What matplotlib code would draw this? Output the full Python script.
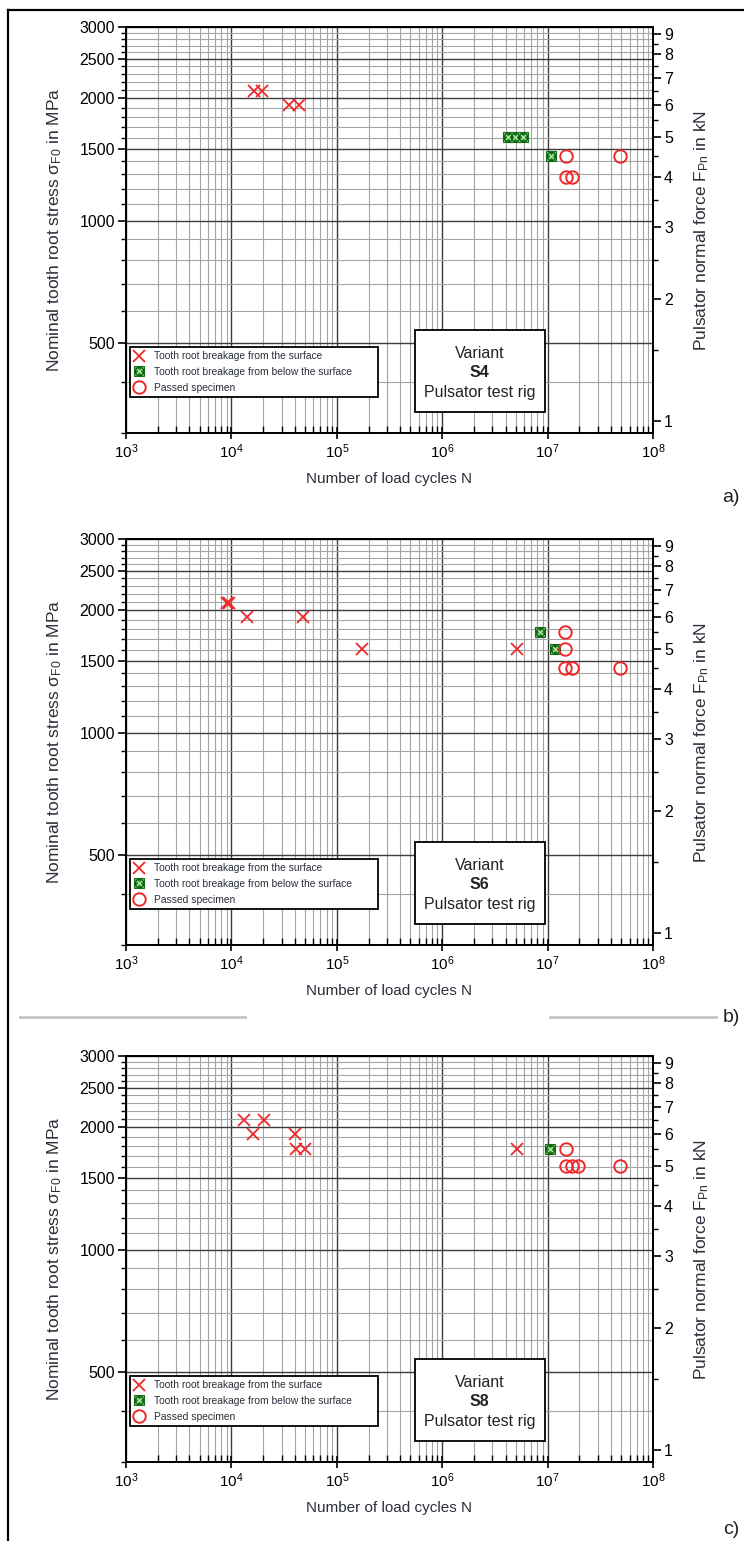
import matplotlib
matplotlib.use('Agg')
import matplotlib.pyplot as plt
from matplotlib.ticker import FixedLocator, FixedFormatter, NullFormatter
from matplotlib.lines import Line2D
from matplotlib.patches import Rectangle
from matplotlib.legend_handler import HandlerTuple

plt.rcParams['font.family'] = ['Liberation Sans', 'DejaVu Sans']
plt.rcParams['mathtext.fontset'] = 'custom'
plt.rcParams['mathtext.rm'] = 'Liberation Sans'
plt.rcParams['mathtext.it'] = 'Liberation Sans:italic'

# pulsator normal force (kN) -> nominal tooth root stress (MPa)
KN_TO_MPA = 321.0

variants = ['S4', 'S6', 'S8']
panel_tags = ['a)', 'b)', 'c)']

# S4
surf_N_s4 = [1.65e4, 1.95e4, 3.5e4, 4.4e4]
surf_F_s4 = [6.5, 6.5, 6.0, 6.0]
below_N_s4 = [4.2e6, 4.9e6, 5.8e6, 1.08e7]
below_F_s4 = [5.0, 5.0, 5.0, 4.5]
pass_N_s4 = [1.5e7, 4.9e7, 1.5e7, 1.7e7]
pass_F_s4 = [4.5, 4.5, 4.0, 4.0]

# S6
surf_N_s6 = [9.0e3, 9.5e3, 1.4e4, 4.8e4, 1.72e5, 5.1e6]
surf_F_s6 = [6.5, 6.5, 6.0, 6.0, 5.0, 5.0]
below_N_s6 = [8.5e6, 1.17e7]
below_F_s6 = [5.5, 5.0]
pass_N_s6 = [1.47e7, 1.47e7, 1.47e7, 1.69e7, 4.9e7]
pass_F_s6 = [5.5, 5.0, 4.5, 4.5, 4.5]

# S8
surf_N_s8 = [1.31e4, 2.04e4, 1.59e4, 4.0e4, 4.1e4, 5.0e4, 5.1e6]
surf_F_s8 = [6.5, 6.5, 6.0, 6.0, 5.5, 5.5, 5.5]
below_N_s8 = [1.05e7]
below_F_s8 = [5.5]
pass_N_s8 = [1.49e7, 1.5e7, 1.72e7, 1.95e7, 4.9e7]
pass_F_s8 = [5.5, 5.0, 5.0, 5.0, 5.0]

panels = [
    (surf_N_s4, surf_F_s4, below_N_s4, below_F_s4, pass_N_s4, pass_F_s4),
    (surf_N_s6, surf_F_s6, below_N_s6, below_F_s6, pass_N_s6, pass_F_s6),
    (surf_N_s8, surf_F_s8, below_N_s8, below_F_s8, pass_N_s8, pass_F_s8),
]

legend_labels = ['Tooth root breakage from the surface',
                 'Tooth root breakage from below the surface',
                 'Passed specimen']

x_decades = [1e3, 1e4, 1e5, 1e6, 1e7, 1e8]
x_ticklabels = [r'$10^{3}$', r'$10^{4}$', r'$10^{5}$', r'$10^{6}$', r'$10^{7}$', r'$10^{8}$']
stress_ticks = [500, 1000, 1500, 2000, 2500, 3000]
force_ticks = [1, 2, 3, 4, 5, 6, 7, 8, 9]

W, H = 744, 1541
fig = plt.figure(figsize=(W / 100, H / 100), dpi=100)


def fx(x):
    return x / W


def fy(y):
    return 1 - y / H


RED = '#f0282a'
TXT = '#2a2f3a'

panel_tops = [27, 539, 1056]
tag_y = [498, 1017, 1530]

for i, (sN, sF, bN, bF, pN, pF) in enumerate(panels):
    top = panel_tops[i]
    bot = top + 406
    ax = fig.add_axes([fx(126), fy(bot), fx(653) - fx(126), fy(top) - fy(bot)])
    ax.set_xscale('log')
    ax.set_yscale('log')
    ax.set_xlim(1e3, 1e8)
    ax.set_ylim(300, 3000)

    ax.xaxis.set_major_locator(FixedLocator(x_decades))
    ax.xaxis.set_major_formatter(FixedFormatter(x_ticklabels))
    ax.xaxis.set_minor_locator(FixedLocator([m * d for d in x_decades[:-1] for m in range(2, 10)]))
    ax.xaxis.set_minor_formatter(NullFormatter())
    ax.yaxis.set_major_locator(FixedLocator(stress_ticks))
    ax.yaxis.set_major_formatter(FixedFormatter([str(s) for s in stress_ticks]))
    ax.yaxis.set_minor_locator(FixedLocator([v for v in range(300, 3000, 100) if v % 500]))
    ax.yaxis.set_minor_formatter(NullFormatter())

    ax.grid(which='major', color='#3c3c3c', lw=1.0)
    ax.grid(which='minor', color='#a4a4a4', lw=0.8)
    ax.set_axisbelow(True)
    ax.tick_params(axis='x', which='major', direction='inout', length=8, width=1.2,
                   labelsize=11, pad=3)
    ax.tick_params(axis='x', which='minor', direction='in', length=5, width=1.0)
    ax.tick_params(axis='y', which='major', direction='out', length=6, width=1.2,
                   labelsize=11.5, pad=2)
    ax.tick_params(axis='y', which='minor', direction='out', length=3.5, width=1.0)
    for sp in ax.spines.values():
        sp.set_linewidth(1.3)

    ax2 = ax.twinx()
    ax2.set_yscale('log')
    ax2.set_ylim(300 / KN_TO_MPA, 3000 / KN_TO_MPA)
    ax2.yaxis.set_major_locator(FixedLocator(force_ticks))
    ax2.yaxis.set_major_formatter(FixedFormatter([str(f) for f in force_ticks]))
    ax2.yaxis.set_minor_locator(FixedLocator([f + 0.5 for f in force_ticks[:-1]]))
    ax2.yaxis.set_minor_formatter(NullFormatter())
    ax2.tick_params(axis='y', which='major', direction='out', length=6, width=1.2,
                    labelsize=11.5, pad=2)
    ax2.tick_params(axis='y', which='minor', direction='out', length=3.5, width=1.0)
    for sp in ax2.spines.values():
        sp.set_linewidth(1.3)

    h_surf, = ax2.plot(sN, sF, ls='none', marker='x', ms=8, mew=1.3, color=RED)
    h_b1, = ax2.plot(bN, bF, ls='none', marker='s', ms=7.5, mfc='#1e8c1e', mec='#17701a', mew=0.8)
    h_b2, = ax2.plot(bN, bF, ls='none', marker='x', ms=6, mew=0.9, color='#b8e8b0')
    h_b3, = ax2.plot(bN, bF, ls='none', marker='o', ms=6, mfc='none', mec='#0f5a12', mew=0.8)
    h_pass, = ax2.plot(pN, pF, ls='none', marker='o', ms=9, mfc='none', mec=RED, mew=1.4)

    leg = ax2.legend([h_surf, (h_b1, h_b2, h_b3), h_pass], legend_labels,
                     handler_map={tuple: HandlerTuple(ndivide=1)},
                     loc='lower left', bbox_to_anchor=(0.008, 0.088, 0.47, 0.157),
                     mode='expand', borderaxespad=0, fancybox=False, framealpha=1,
                     edgecolor='black', fontsize=7.4, handlelength=0.9,
                     handletextpad=1.0, labelspacing=0.55, borderpad=0.45)
    leg.get_frame().set_linewidth(1.3)
    for t in leg.get_texts():
        t.set_color(TXT)

    ax2.add_patch(Rectangle((0.548, 0.052), 0.247, 0.202, transform=ax2.transAxes,
                            fc='white', ec='black', lw=1.3, zorder=5))
    ax2.text(0.671, 0.197, 'Variant', transform=ax2.transAxes, ha='center', va='center',
             fontsize=11.5, color='#222222', zorder=6)
    ax2.text(0.671, 0.148, variants[i], transform=ax2.transAxes, ha='center', va='center',
             fontsize=11.5, fontweight='bold', color='#222222', zorder=6)
    ax2.text(0.671, 0.099, 'Pulsator test rig', transform=ax2.transAxes, ha='center',
             va='center', fontsize=11.5, color='#222222', zorder=6)

    fig.text(fx(389), fy(bot + 46), 'Number of load cycles N', ha='center', va='center',
             fontsize=11, color=TXT)
    fig.text(fx(55), fy(top + 203), r'Nominal tooth root stress σ$_{\mathrm{F0}}$ in MPa',
             rotation=90, ha='center', va='center', fontsize=12.5, color=TXT)
    fig.text(fx(702), fy(top + 203), r'Pulsator normal force F$_{\mathrm{Pn}}$ in kN',
             rotation=90, ha='center', va='center', fontsize=12.5, color=TXT)
    fig.text(fx(731), fy(tag_y[i]), panel_tags[i], ha='center', va='center',
             fontsize=14, color='#222222')

# outer frame (left and top only)
fig.add_artist(Line2D([fx(8), fx(8)], [fy(10), 0], transform=fig.transFigure,
                      color='black', lw=1.6))
fig.add_artist(Line2D([fx(8), 1], [fy(10), fy(10)], transform=fig.transFigure,
                      color='black', lw=1.6))
# separator between b) and c)
for x0, x1 in [(20, 245), (550, 716)]:
    fig.add_artist(Line2D([fx(x0), fx(x1)], [fy(1017), fy(1017)], transform=fig.transFigure,
                          color='#c4c4c4', lw=2.0))

fig.savefig('out.png', dpi=100)
